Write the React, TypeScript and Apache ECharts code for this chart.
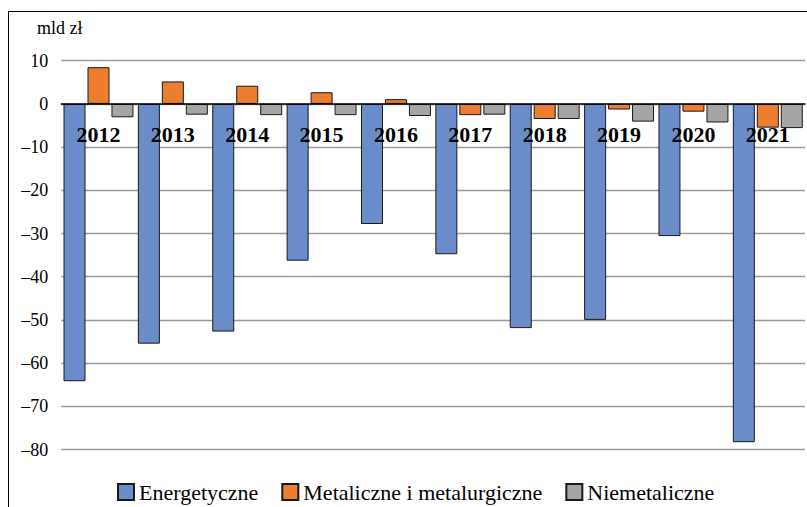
import React, { useEffect, useRef } from "react";
import * as echarts from "echarts";

const years = ["2012", "2013", "2014", "2015", "2016", "2017", "2018", "2019", "2020", "2021"];
const energetyczne = [-64.2, -55.5, -52.7, -36.3, -27.8, -34.8, -51.9, -50.0, -30.6, -78.3];
const metaliczne = [8.5, 5.2, 4.2, 2.7, 1.1, -2.6, -3.5, -1.3, -1.8, -5.5];
const niemetaliczne = [-3.1, -2.5, -2.6, -2.6, -2.8, -2.5, -3.5, -4.1, -4.3, -5.6];
const seriesNames = ["Energetyczne", "Metaliczne i metalurgiczne", "Niemetaliczne"];
const unitLabel = "mld zł";

const FONT = "Times New Roman";

export default function App() {
  const ref = useRef<HTMLDivElement>(null);
  useEffect(() => {
    document.body.style.margin = "0";
    document.body.style.overflow = "hidden";
    const chart = echarts.init(ref.current!, undefined, { renderer: "svg" });
    const mk = (name: string, data: number[], color: string) => ({
      name,
      type: "bar",
      data,
      barWidth: 22,
      barGap: "9%",
      itemStyle: { color, borderColor: "#1a1a1a", borderWidth: 1 },
    });
    chart.setOption({
      animation: false,
      backgroundColor: "#fff",
      textStyle: { fontFamily: FONT },
      grid: { left: 61.3, right: 2, top: 60.7, bottom: 57.5, containLabel: false },
      xAxis: {
        type: "category",
        data: years,
        position: "top",
        offset: -43.2,
        z: 5,
        axisTick: { show: false },
        axisLine: { show: true, onZero: false, lineStyle: { color: "#000", width: 1.5 } },
        axisLabel: {
          inside: true,
          margin: 20,
          fontSize: 22,
          fontWeight: "bold",
          color: "#000",
          fontFamily: FONT,
        },
      },
      yAxis: {
        type: "value",
        min: -80,
        max: 10,
        interval: 10,
        axisLine: { show: false },
        axisTick: { show: false },
        splitLine: { lineStyle: { color: "#9a9a9a", width: 1.3 } },
        axisLabel: {
          margin: 13,
          fontSize: 18,
          color: "#000",
          fontFamily: FONT,
          formatter: (v: number) => (v < 0 ? "\u2013" + Math.abs(v) : String(v)),
        },
      },
      legend: {
        left: 117,
        top: 481,
        padding: 0,
        itemWidth: 16,
        itemHeight: 16,
        itemGap: 23,
        icon: "rect",
        textStyle: { fontSize: 22, color: "#000", fontFamily: FONT, lineHeight: 22 },
        data: seriesNames,
      },
      graphic: [
        {
          type: "rect",
          shape: { x: 8.5, y: 11.5, width: 900, height: 600 },
          style: { fill: "none", stroke: "#000", lineWidth: 1 },
          silent: true,
        },
        {
          type: "text",
          left: 37,
          top: 19,
          style: { text: unitLabel, fontSize: 18, fill: "#000", fontFamily: FONT },
        },
      ],
      series: [
        mk(seriesNames[0], energetyczne, "#6a8cc8"),
        mk(seriesNames[1], metaliczne, "#ed7d31"),
        mk(seriesNames[2], niemetaliczne, "#a5a5a5"),
      ],
    });
    return () => chart.dispose();
  }, []);
  return <div ref={ref} style={{ width: 807, height: 507, overflow: "hidden" }} />;
}
